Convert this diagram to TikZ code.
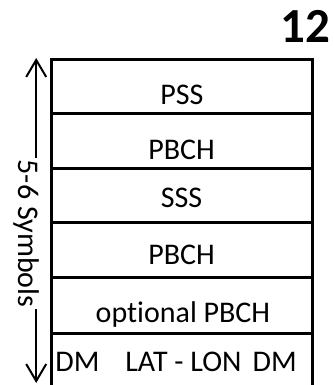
\documentclass[tikz,border=0pt]{standalone}
\usepackage{fontspec}
\setmainfont{Carlito}[Ligatures=NoCommon]
\usetikzlibrary{arrows.meta}
\begin{document}
\begin{tikzpicture}[
    x=1pt, y=1pt,
    frame/.style={line width=3pt},
    field/.style={anchor=base, font=\fontsize{30}{36}\selectfont},
    dim/.style={line width=2pt, -{Straight Barb[length=17pt,width=20pt]}},
]
\useasboundingbox (0,0) rectangle (334,385);
% block of symbols, open at the bottom
\draw[frame] (51,0) -- (51,325) -- (312,325) -- (312,0);
\foreach \y in {271,216,162,107,51} \draw[frame] (51,\y) -- (312,\y);
\node[field] (pss)   at (182,280) {PSS};
\node[field] (pbch1) at (181.5,225) {PBCH};
\node[field] (sss)   at (181.5,177) {SSS};
\node[field] (pbch2) at (181.5,120) {PBCH};
\node[field] (opt)   at (183,62)    {optional PBCH};
\node[field] (dm)    at (176,13)    {DM\hspace{26pt}LAT - LON\hspace{11pt}DM};
\node[anchor=base east, font=\fontsize{49}{55}\selectfont\bfseries] (num) at (334,342) {12};
% length of the block
\node[field, rotate=-90, text height=18pt, inner sep=0pt, inner xsep=2pt] (sym) at (18,151.5) {5-6 Symbols};
\coordinate (top) at (36,327);
\coordinate (bot) at (36,2);
\draw[dim] (sym.north west) -- (sym.north west |- top);
\draw[dim] (sym.north east) -- (sym.north east |- bot);
\end{tikzpicture}
\end{document}
